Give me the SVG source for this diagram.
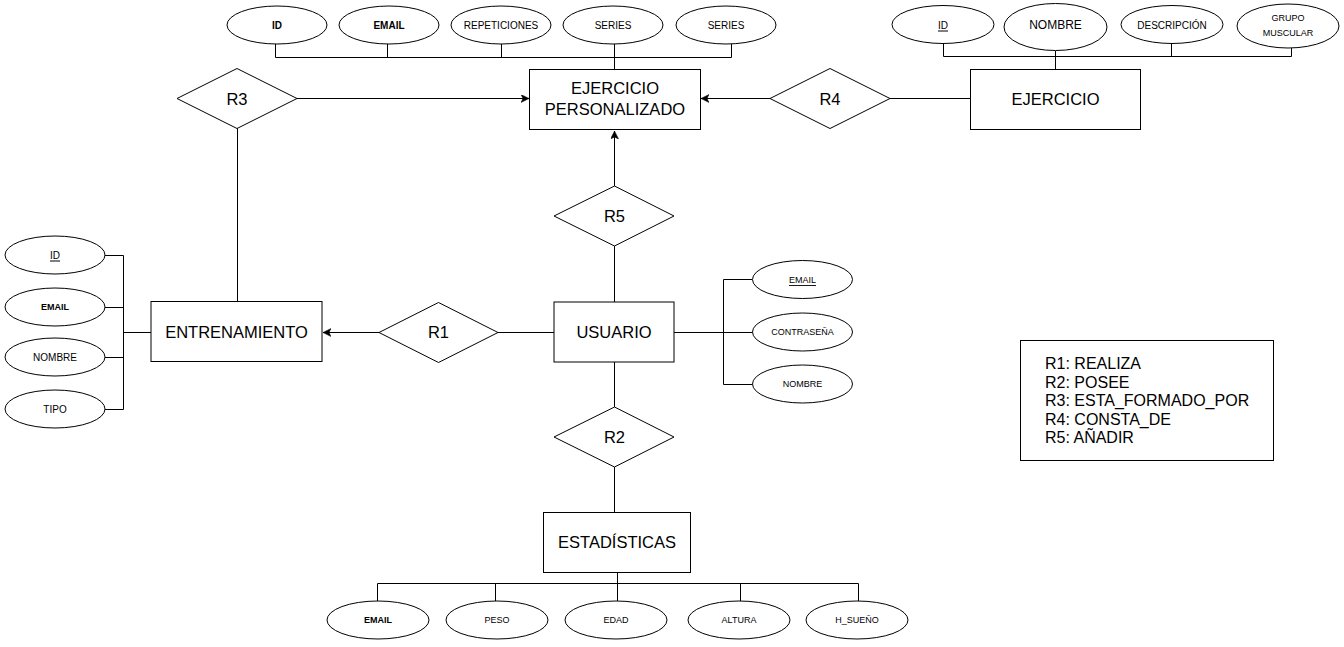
<svg xmlns="http://www.w3.org/2000/svg" width="1344" height="647" viewBox="0 0 1344 647">
<defs>
<style>
.bg{fill:#ffffff}
.ent{fill:#ffffff;stroke:#000000;stroke-width:1}
.rel{fill:#ffffff;stroke:#000000;stroke-width:1}
.att{fill:#ffffff;stroke:#000000;stroke-width:1}
.ln{fill:none;stroke:#000000;stroke-width:1}
.arr{fill:none;stroke:#000000;stroke-width:1;marker-end:url(#ah)}
text{font-family:"Liberation Sans",Arial,sans-serif;fill:#000000;text-anchor:middle;dominant-baseline:central}
.big{font-size:16.5px}
.s10{font-size:10px}
.s9{font-size:9px}
.b{font-weight:bold}
.u{text-decoration:underline}
.leg{font-size:16px;text-anchor:start}
</style>
<marker id="ah" markerWidth="10" markerHeight="10" refX="8" refY="4" orient="auto" markerUnits="userSpaceOnUse">
<path d="M0,0 L8,4 L0,8 L2,4 Z" fill="#000000" stroke="#000000" stroke-width="0.5"/>
</marker>
</defs>
<rect class="bg" x="0" y="0" width="1344" height="647"/>

<g id="connectors">
<path class="ln" d="M275.5,44 V57.5 H614.5"/>
<path class="ln" d="M387.5,44 V57.5"/>
<path class="ln" d="M501.5,44 V57.5"/>
<path class="ln" d="M614.5,44 V70"/>
<path class="ln" d="M731.5,44 V57.5 H614.5"/>
<path class="ln" d="M943.5,43 V56.5 H1291.5 V48"/>
<path class="ln" d="M1055.5,51 V69"/>
<path class="ln" d="M1171.5,43 V56.5"/>
<path class="arr" d="M297,98.5 H529"/>
<path class="ln" d="M237.5,128 V301"/>
<path class="ln" d="M970,98.5 H890"/>
<path class="arr" d="M770,98.5 H701"/>
<path class="arr" d="M614.5,186 V131"/>
<path class="ln" d="M614.5,246 V302"/>
<path class="ln" d="M554,332.5 H498"/>
<path class="arr" d="M379,332.5 H323"/>
<path class="ln" d="M614.5,362 V407"/>
<path class="ln" d="M614.5,467 V513"/>
<path class="ln" d="M105,255.5 H123.5 V409.5 H105"/>
<path class="ln" d="M105,307.5 H123.5"/>
<path class="ln" d="M105,357.5 H123.5"/>
<path class="ln" d="M123.5,332.5 H151"/>
<path class="ln" d="M752,279.5 H723.5 V384.5 H752"/>
<path class="ln" d="M674,332.5 H752"/>
<path class="ln" d="M617.5,572 V601"/>
<path class="ln" d="M377.5,601 V583.5 H858.5 V601"/>
<path class="ln" d="M495.5,583.5 V601"/>
<path class="ln" d="M740.5,583.5 V601"/>
</g>

<g id="attr-ep-id"><ellipse class="att" cx="277" cy="25" rx="50" ry="19"/><text class="s10 b" x="277" y="25">ID</text></g>
<g id="attr-ep-email"><ellipse class="att" cx="389" cy="25" rx="50" ry="19"/><text class="s10 b" x="389" y="25">EMAIL</text></g>
<g id="attr-ep-repeticiones"><ellipse class="att" cx="501" cy="25" rx="50" ry="19"/><text class="s10" x="501" y="25">REPETICIONES</text></g>
<g id="attr-ep-series1"><ellipse class="att" cx="613" cy="25" rx="50" ry="19"/><text class="s10" x="613" y="25">SERIES</text></g>
<g id="attr-ep-series2"><ellipse class="att" cx="726" cy="25" rx="50" ry="19"/><text class="s10" x="726" y="25">SERIES</text></g>

<g id="attr-ej-id"><ellipse class="att" cx="943" cy="24.5" rx="51" ry="19"/><text class="s10 u" x="943" y="25">ID</text></g>
<g id="attr-ej-nombre"><ellipse class="att" cx="1055.5" cy="27" rx="51.5" ry="23.5"/><text x="1055.5" y="25" style="font-size:12px">NOMBRE</text></g>
<g id="attr-ej-descripcion"><ellipse class="att" cx="1172" cy="24.5" rx="51" ry="19"/><text class="s10" x="1172" y="25">DESCRIPCIÓN</text></g>
<g id="attr-ej-grupo"><ellipse class="att" cx="1288" cy="26" rx="51" ry="22"/><text x="1288" y="18" style="font-size:9px">GRUPO</text><text x="1288" y="33" style="font-size:9px">MUSCULAR</text></g>

<g id="ejercicio-personalizado"><rect class="ent" x="529.5" y="69.5" width="171" height="60"/><text class="big" x="615" y="88">EJERCICIO</text><text class="big" x="615" y="109">PERSONALIZADO</text></g>
<g id="ejercicio"><rect class="ent" x="970.5" y="69.5" width="170" height="60"/><text class="big" x="1055.5" y="99">EJERCICIO</text></g>

<g id="r3"><polygon class="rel" points="177,98.5 237,68.5 297,98.5 237,128.5"/><text class="big" x="237" y="99">R3</text></g>
<g id="r4"><polygon class="rel" points="770,98.5 830,68.5 890,98.5 830,128.5"/><text class="big" x="830" y="99">R4</text></g>
<g id="r5"><polygon class="rel" points="554,216 614.5,186 674,216 614.5,246"/><text class="big" x="614.5" y="216">R5</text></g>
<g id="r1"><polygon class="rel" points="379,332.5 438.5,302.5 498,332.5 438.5,362.5"/><text class="big" x="438.5" y="332">R1</text></g>
<g id="r2"><polygon class="rel" points="554,437 614.5,407 674,437 614.5,467"/><text class="big" x="614.5" y="437">R2</text></g>

<g id="entrenamiento"><rect class="ent" x="151" y="301.5" width="171" height="60"/><text class="big" x="236.5" y="332">ENTRENAMIENTO</text></g>
<g id="attr-en-id"><ellipse class="att" cx="55" cy="255" rx="50" ry="19"/><text class="s10 u" x="55" y="255">ID</text></g>
<g id="attr-en-email"><ellipse class="att" cx="55" cy="307" rx="50" ry="19"/><text class="s9 b" x="55" y="307">EMAIL</text></g>
<g id="attr-en-nombre"><ellipse class="att" cx="55" cy="357" rx="50" ry="19"/><text class="s10" x="55" y="357">NOMBRE</text></g>
<g id="attr-en-tipo"><ellipse class="att" cx="55" cy="409" rx="50" ry="19"/><text class="s10" x="55" y="409">TIPO</text></g>

<g id="usuario"><rect class="ent" x="554" y="302" width="120" height="60"/><text class="big" x="614" y="332">USUARIO</text></g>
<g id="attr-us-email"><ellipse class="att" cx="802.5" cy="279.5" rx="50" ry="19"/><text class="s9 u" x="802.5" y="280">EMAIL</text></g>
<g id="attr-us-contrasena"><ellipse class="att" cx="802.5" cy="332" rx="50" ry="19"/><text class="s9" x="802.5" y="332">CONTRASEÑA</text></g>
<g id="attr-us-nombre"><ellipse class="att" cx="802.5" cy="384" rx="50" ry="19"/><text class="s9" x="802.5" y="384">NOMBRE</text></g>

<g id="estadisticas"><rect class="ent" x="543.5" y="512.5" width="147" height="60"/><text class="big" x="617" y="542">ESTADÍSTICAS</text></g>
<g id="attr-es-email"><ellipse class="att" cx="378" cy="620" rx="51" ry="19"/><text class="s9 b" x="378" y="620">EMAIL</text></g>
<g id="attr-es-peso"><ellipse class="att" cx="497" cy="620" rx="51" ry="19"/><text class="s9" x="497" y="620">PESO</text></g>
<g id="attr-es-edad"><ellipse class="att" cx="616" cy="620" rx="51" ry="19"/><text class="s9" x="616" y="620">EDAD</text></g>
<g id="attr-es-altura"><ellipse class="att" cx="739" cy="620" rx="51" ry="19"/><text class="s9" x="739" y="620">ALTURA</text></g>
<g id="attr-es-hsueno"><ellipse class="att" cx="857" cy="620" rx="51" ry="19"/><text class="s9" x="857" y="620">H_SUEÑO</text></g>

<g id="legend"><rect class="ent" x="1020.5" y="340.5" width="253" height="120"/>
<text class="leg" x="1045" y="363">R1: REALIZA</text>
<text class="leg" x="1045" y="382">R2: POSEE</text>
<text class="leg" x="1045" y="400">R3: ESTA_FORMADO_POR</text>
<text class="leg" x="1045" y="419">R4: CONSTA_DE</text>
<text class="leg" x="1045" y="437">R5: AÑADIR</text>
</g>
</svg>
